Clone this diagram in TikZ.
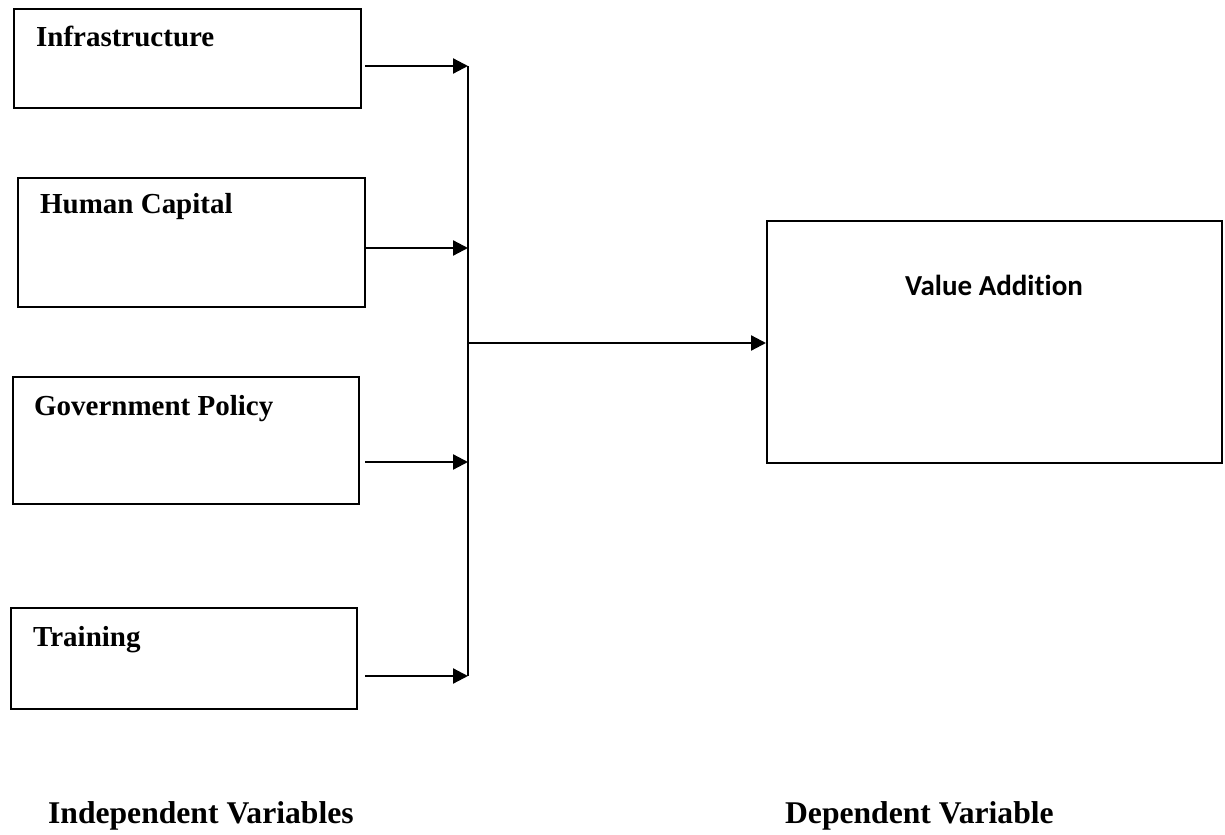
\documentclass[tikz,border=0pt]{standalone}
\usepackage{fontspec}
\setmainfont{Liberation Serif}
\newfontfamily\carlitofont[Ligatures=NoCommon]{Carlito}
\usetikzlibrary{arrows.meta}

\begin{document}
\begin{tikzpicture}[x=0.02cm, y=-0.02cm, line width=1.3pt,
  varbox/.style={draw, rectangle, anchor=north west, inner sep=0pt},
  varname/.style={anchor=base west, inner sep=0pt, font=\bfseries\fontsize{16.5}{20}\selectfont},
  caption/.style={anchor=base west, inner sep=0pt, font=\bfseries\fontsize{18}{22}\selectfont},
  flow/.style={-{Triangle[length=0.3cm,width=0.3cm]}}]
  \useasboundingbox (0,0) rectangle (1225,835);

  % independent variables
  \node[varbox, minimum width=6.94cm, minimum height=1.98cm] (infra) at (13,8) {};
  \node[varbox, minimum width=6.94cm, minimum height=2.58cm] (human) at (17,177) {};
  \node[varbox, minimum width=6.92cm, minimum height=2.54cm] (policy) at (12,376) {};
  \node[varbox, minimum width=6.92cm, minimum height=2.02cm] (training) at (10,607) {};
  \node[varname] (infratext) at (35,47) {Infrastructure};
  \node[varname] (humantext) at (39,213) {Human Capital};
  \node[varname] (policytext) at (33,415) {Government Policy};
  \node[varname] (trainingtext) at (32,646) {Training};

  % dependent variable
  \node[varbox, minimum width=9.10cm, minimum height=4.84cm] (value) at (766,220) {};
  \node[anchor=base, inner sep=0pt, font=\carlitofont\bfseries\fontsize{16.5}{20}\selectfont] (valuetext) at (994,295) {Value Addition};

  % joining line
  \coordinate (j1) at (468,66);
  \coordinate (j2) at (468,248);
  \coordinate (j3) at (468,462);
  \coordinate (j4) at (468,676);
  \coordinate (jm) at (468,343);
  \coordinate (s1) at (365,66);
  \coordinate (s2) at (365,248);
  \coordinate (s3) at (365,462);
  \coordinate (s4) at (365,676);

  \draw[flow] (s1) -- (j1);
  \draw[flow] (s2) -- (j2);
  \draw[flow] (s3) -- (j3);
  \draw[flow] (s4) -- (j4);
  \draw (j1) -- (j4);
  \draw[flow] (jm) -- (value.west |- jm);

  \node[caption] (indep) at (47,823) {Independent Variables};
  \node[caption] (dep) at (784,823) {Dependent Variable};
\end{tikzpicture}
\end{document}
